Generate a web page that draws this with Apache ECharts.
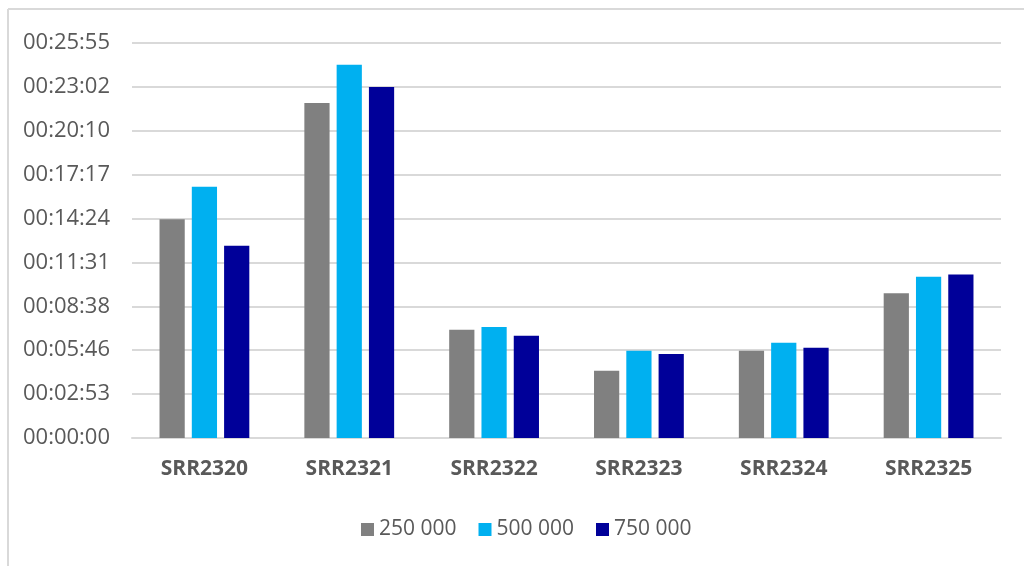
<!DOCTYPE html>
<html>
<head>
<meta charset="utf-8">
<script src="https://cdn.jsdelivr.net/npm/echarts@6/dist/echarts.min.js"></script>
<style>
  html, body { margin: 0; padding: 0; background: #fff; }
  #chart { width: 1024px; height: 566px; }
</style>
</head>
<body>
<div id="chart"></div>
<script>
// Run names along the x axis
const categories = ['SRR2320', 'SRR2321', 'SRR2322', 'SRR2323', 'SRR2324', 'SRR2325'];

// Run time in seconds for each read count
const seriesNames = ['250 000', '500 000', '750 000'];
const reads250k = [861, 1319, 426, 265, 344, 570];
const reads500k = [989, 1470, 437, 344, 375, 635];
const reads750k = [757, 1382, 403, 331, 355, 644];

// Axis step: 0.002 day = 172.8 s
const yStep = 172.8;
const yMax = 1555.2;

const colors = ['#808080', '#00B0F0', '#000099'];
const FONT = '"Open Sans", "Noto Sans", sans-serif';

function fmtTime(sec) {
  const s = Math.round(sec);
  const h = Math.floor(s / 3600);
  const m = Math.floor((s % 3600) / 60);
  const r = s % 60;
  const p = n => String(n).padStart(2, '0');
  return p(h) + ':' + p(m) + ':' + p(r);
}

const chart = echarts.init(document.getElementById('chart'), null, { renderer: 'canvas' });

const dataSets = [reads250k, reads500k, reads750k];

chart.setOption({
  animation: false,
  backgroundColor: '#fff',
  color: colors,
  grid: { left: 132, right: 23, top: 43, bottom: 128, containLabel: false },
  legend: {
    left: 356,
    top: 514,
    itemWidth: 13,
    itemHeight: 13,
    itemGap: 22,
    icon: 'rect',
    textStyle: { fontFamily: FONT, fontSize: 21, color: '#595959', padding: [0, 0, 0, 0] },
    data: seriesNames
  },
  xAxis: {
    type: 'category',
    data: categories,
    axisLine: { show: true, lineStyle: { color: '#D9D9D9', width: 2 } },
    axisTick: { show: false },
    axisLabel: {
      fontFamily: FONT, fontSize: 21, fontWeight: 'bold', color: '#595959', margin: 21
    }
  },
  yAxis: {
    type: 'value',
    min: 0,
    max: yMax,
    interval: yStep,
    axisLine: { show: false },
    axisTick: { show: false },
    splitLine: { lineStyle: { color: '#D9D9D9', width: 2 } },
    axisLabel: {
      fontFamily: FONT, fontSize: 22, color: '#595959', margin: 22,
      formatter: v => fmtTime(v)
    }
  },
  graphic: [
    { type: 'line', shape: { x1: 8, y1: 9, x2: 1024, y2: 9 }, style: { stroke: '#D9D9D9', lineWidth: 2 }, silent: true },
    { type: 'line', shape: { x1: 8, y1: 9, x2: 8, y2: 566 }, style: { stroke: '#D9D9D9', lineWidth: 2 }, silent: true }
  ],
  series: seriesNames.map((name, i) => ({
    name: name,
    type: 'bar',
    data: dataSets[i],
    barGap: '28%',
    barCategoryGap: '38%',
    itemStyle: { color: colors[i] }
  }))
});
</script>
</body>
</html>
